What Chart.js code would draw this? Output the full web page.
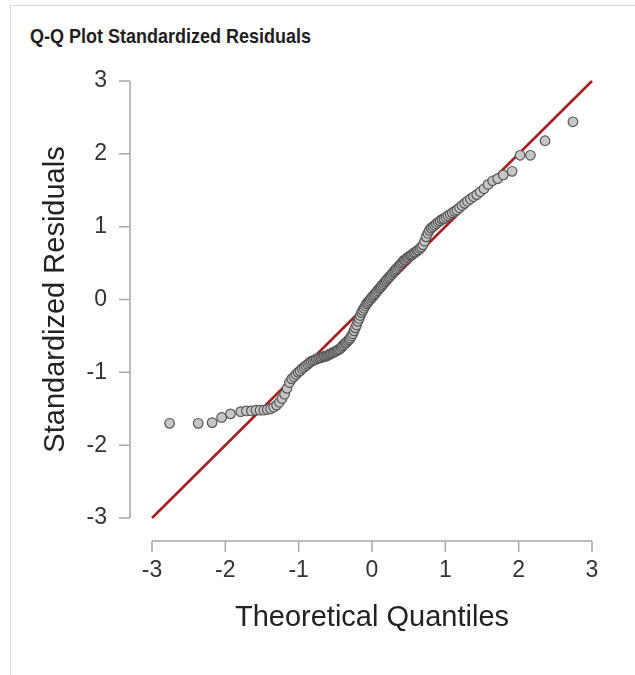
<!DOCTYPE html>
<html>
<head>
<meta charset="utf-8">
<script src="https://cdn.jsdelivr.net/npm/chart.js@4"></script>
<style>
  body { margin: 0; background: #fff; }
  #wrap { position: relative; width: 635px; height: 675px; overflow: hidden; }
  #frame { position: absolute; left: 10px; top: 5px; width: 700px; height: 700px;
           border-left: 1px solid #d9d9d9; border-top: 1px solid #d9d9d9; }
  #title { position: absolute; left: 30px; top: 25px; font: bold 18px "Liberation Sans", Arial, sans-serif;
           color: #1e1e1e; transform: scaleY(1.15); transform-origin: left top; white-space: nowrap; }
  canvas { position: absolute; left: 0; top: 0; }
</style>
</head>
<body>
<div id="wrap">
  <div id="frame"></div>
  <div id="title">Q-Q Plot Standardized Residuals</div>
  <canvas id="qq" width="635" height="675"></canvas>
</div>
<script>
// theoretical quantiles (x) and standardized residuals (y)
const theoretical = [
  -2.76, -2.37, -2.18, -2.05, -1.93, -1.79, -1.713, -1.645, -1.583, -1.527,
  -1.476, -1.428, -1.383, -1.341, -1.301, -1.263, -1.227, -1.192, -1.158, -1.126,
  -1.095, -1.065, -1.036, -1.008, -0.981, -0.954, -0.928, -0.903, -0.878, -0.854,
  -0.830, -0.806, -0.783, -0.761, -0.739, -0.717, -0.695, -0.674, -0.654, -0.633,
  -0.613, -0.593, -0.573, -0.553, -0.534, -0.515, -0.496, -0.477, -0.458, -0.440,
  -0.421, -0.403, -0.385, -0.367, -0.349, -0.332, -0.314, -0.297, -0.279, -0.262,
  -0.245, -0.228, -0.210, -0.193, -0.176, -0.160, -0.143, -0.126, -0.109, -0.092,
  -0.075, -0.059, -0.042, -0.025, -0.008,
  0.008, 0.025, 0.042, 0.059, 0.075, 0.092, 0.109, 0.126, 0.143, 0.160,
  0.176, 0.193, 0.210, 0.228, 0.245, 0.262, 0.279, 0.297, 0.314, 0.332,
  0.349, 0.367, 0.385, 0.403, 0.421, 0.440, 0.458, 0.477, 0.496, 0.515,
  0.534, 0.553, 0.573, 0.593, 0.613, 0.633, 0.654, 0.674, 0.695, 0.717,
  0.739, 0.761, 0.783, 0.806, 0.830, 0.854, 0.878, 0.903, 0.928, 0.954,
  0.981, 1.008, 1.036, 1.065, 1.095, 1.126, 1.158, 1.192, 1.227, 1.263,
  1.301, 1.341, 1.383, 1.428, 1.476, 1.527, 1.583, 1.645, 1.713, 1.79,
  1.91, 2.02, 2.16, 2.36, 2.74
];
const residuals = [
  -1.70, -1.70, -1.69, -1.62, -1.57, -1.54, -1.53, -1.53, -1.52, -1.52,
  -1.52, -1.51, -1.50, -1.48, -1.45, -1.41, -1.36, -1.30, -1.22, -1.14,
  -1.09, -1.06, -1.03, -1.00, -0.98, -0.95, -0.93, -0.91, -0.89, -0.87,
  -0.85, -0.84, -0.83, -0.82, -0.81, -0.80, -0.80, -0.79, -0.78, -0.78,
  -0.77, -0.76, -0.75, -0.74, -0.73, -0.72, -0.71, -0.70, -0.69, -0.68,
  -0.66, -0.64, -0.62, -0.60, -0.59, -0.57, -0.55, -0.53, -0.50, -0.47,
  -0.43, -0.39, -0.35, -0.30, -0.26, -0.22, -0.18, -0.15, -0.12, -0.09,
  -0.06, -0.04, -0.02, 0.00, 0.02,
  0.04, 0.06, 0.08, 0.10, 0.12, 0.14, 0.16, 0.18, 0.20, 0.22,
  0.24, 0.26, 0.28, 0.30, 0.32, 0.34, 0.36, 0.38, 0.40, 0.42,
  0.44, 0.46, 0.48, 0.50, 0.52, 0.54, 0.55, 0.57, 0.58, 0.60,
  0.61, 0.62, 0.64, 0.65, 0.67, 0.68, 0.70, 0.72, 0.75, 0.80,
  0.86, 0.91, 0.95, 0.98, 1.00, 1.02, 1.04, 1.06, 1.08, 1.10,
  1.11, 1.13, 1.15, 1.17, 1.19, 1.21, 1.23, 1.26, 1.29, 1.32,
  1.35, 1.38, 1.41, 1.44, 1.48, 1.52, 1.58, 1.63, 1.66, 1.71,
  1.76, 1.98, 1.98, 2.18, 2.44
];
// reference line y = x
const refLineX = [-3, 3];
const refLineY = [-3, 3];
const axisTicks = [-3, -2, -1, 0, 1, 2, 3];

const axisColor = '#a8a8a8';

// R-style detached axes: line sits away from the plot region
const detachedAxes = {
  id: 'detachedAxes',
  afterDraw(chart) {
    const { ctx, chartArea, scales } = chart;
    const xs = scales.x, ys = scales.y;
    const axX = chartArea.left - 22;
    const axY = chartArea.bottom + 23;
    ctx.save();
    ctx.strokeStyle = axisColor;
    ctx.lineWidth = 1.5;
    ctx.beginPath();
    ctx.moveTo(axX, ys.getPixelForValue(3));
    ctx.lineTo(axX, ys.getPixelForValue(-3));
    axisTicks.forEach(v => {
      const p = ys.getPixelForValue(v);
      ctx.moveTo(axX - 11, p);
      ctx.lineTo(axX, p);
    });
    ctx.moveTo(xs.getPixelForValue(-3), axY);
    ctx.lineTo(xs.getPixelForValue(3), axY);
    axisTicks.forEach(v => {
      const p = xs.getPixelForValue(v);
      ctx.moveTo(p, axY);
      ctx.lineTo(p, axY + 11);
    });
    ctx.stroke();
    ctx.restore();
  }
};

const tickFont = { family: '"Liberation Sans", Arial, sans-serif', size: 23 };
const titleFont = { family: '"Liberation Sans", Arial, sans-serif', size: 29 };

new Chart(document.getElementById('qq'), {
  data: {
    datasets: [
      {
        type: 'scatter',
        data: theoretical.map((x, i) => ({ x: x, y: residuals[i] })),
        backgroundColor: '#c6c6c6',
        borderColor: '#555555',
        borderWidth: 1.2,
        pointRadius: 4.8,
        order: 1
      },
      {
        type: 'line',
        data: refLineX.map((x, i) => ({ x: x, y: refLineY[i] })),
        borderColor: '#a81f21',
        borderWidth: 2.6,
        pointRadius: 0,
        fill: false,
        order: 2
      }
    ]
  },
  options: {
    responsive: false,
    animation: false,
    devicePixelRatio: 1,
    clip: false,
    layout: { padding: { left: 10, top: 81, right: 43, bottom: 0 } },
    plugins: { legend: { display: false }, tooltip: { enabled: false } },
    scales: {
      x: {
        type: 'linear', min: -3, max: 3,
        grid: { display: false, drawTicks: false },
        border: { display: false },
        ticks: { stepSize: 1, font: tickFont, color: '#333', padding: 39 },
        title: { display: true, text: 'Theoretical Quantiles', font: titleFont, color: '#222',
                 padding: { top: 0, bottom: 40 } },
        afterFit: s => { s.height = 157; s.paddingLeft = 0; s.paddingRight = 0; }
      },
      y: {
        type: 'linear', min: -3, max: 3,
        grid: { display: false, drawTicks: false },
        border: { display: false },
        ticks: { stepSize: 1, font: tickFont, color: '#333', padding: 45 },
        title: { display: true, text: 'Standardized Residuals', font: titleFont, color: '#222',
                 padding: { top: 29, bottom: 0 } },
        afterFit: s => { s.width = 142; }
      }
    }
  },
  plugins: [detachedAxes]
});
</script>
</body>
</html>
